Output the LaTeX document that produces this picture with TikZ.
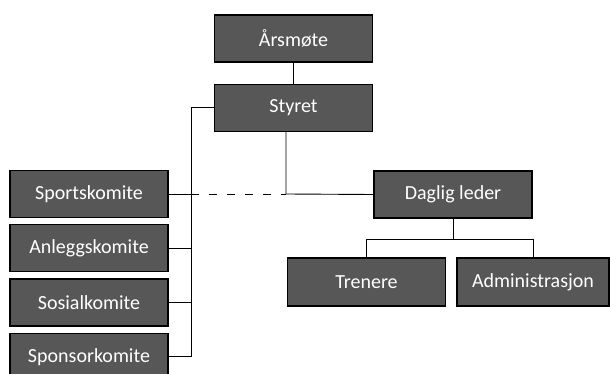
\documentclass[tikz,border=0pt]{standalone}
\usepackage{fontspec}
\setmainfont{Carlito}
\usetikzlibrary{positioning}
\tikzset{orgbox/.style={rectangle, draw=black, line width=1.3pt, fill=black!66,
text=white, text centered, font=\fontsize{20}{23}\selectfont,
minimum width=158pt, minimum height=47pt, inner sep=0pt},
orgline/.style={draw=black, line width=0.9pt},
dashline/.style={orgline, dash pattern=on 8pt off 10pt}}

\begin{document}
\begin{tikzpicture}[x=1pt, y=-1pt]
\useasboundingbox (0,0) rectangle (610,374);

\node[orgbox] (arsmote) at (293.5,38.5) {Årsmøte};
\node[orgbox, below=21pt of arsmote] (styret) {Styret};

% committees =============================
\node[orgbox] (sport) at (89,194) {Sportskomite};
\node[orgbox, below=6pt of sport] (anlegg) {Anleggskomite};
\node[orgbox, below=6pt of anlegg] (sosial) {Sosialkomite};
\node[orgbox, below=6pt of sosial] (sponsor) {Sponsorkomite};

% management =============================
\node[orgbox] (daglig) at (453,194.5) {Daglig leder};
\node[orgbox, minimum height=48pt] (trenere) at (366.5,282) {Trenere};
\node[orgbox, minimum width=152pt, minimum height=48pt] (admin) at (533,282) {Administrasjon};

\coordinate (bus) at (191,0);
\coordinate (junc) at (286,194);

% edges
\draw[orgline] (arsmote) -- (styret);
\draw[orgline] (styret.west) -- (styret.west -| bus) |- (sport.east);
\draw[orgline] (styret.west) -- (styret.west -| bus) |- (anlegg.east);
\draw[orgline] (styret.west) -- (styret.west -| bus) |- (sosial.east);
\draw[orgline] (styret.west) -- (styret.west -| bus) |- (sponsor.east);
\draw[dashline] (sport.east -| bus) -- (junc);
\draw[orgline] (styret.south -| junc) -- (junc) -- (daglig.west);
\draw[orgline] (daglig.south) -- ++(0,21) -| (trenere.north);
\draw[orgline] (daglig.south) -- ++(0,21) -| (admin.north);

\end{tikzpicture}
\end{document}
